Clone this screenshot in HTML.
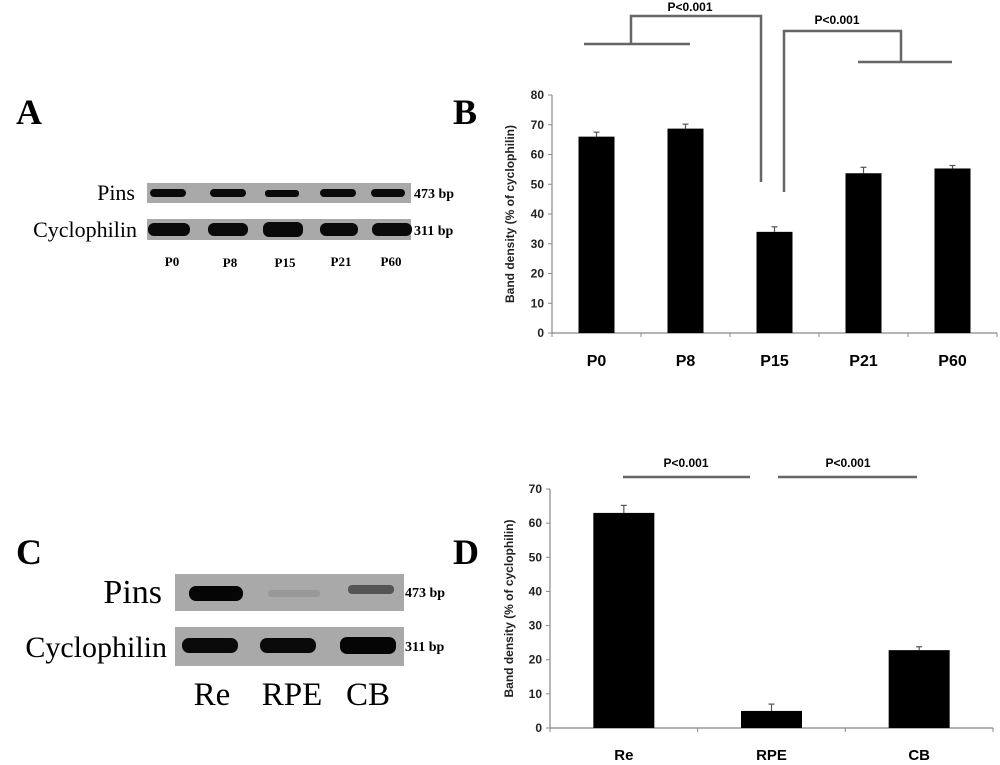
<!DOCTYPE html>
<html><head><meta charset="utf-8"><style>
html,body{margin:0;padding:0;background:#fff;}
svg{display:block;}
.serif{font-family:"Liberation Serif",serif;}
.sans{font-family:"Liberation Sans",sans-serif;}
</style></head><body>
<svg id="fig" width="1000" height="765" viewBox="0 0 1000 765" xmlns="http://www.w3.org/2000/svg">
<rect width="1000" height="765" fill="#fff"/>
<g class="serif" font-weight="bold" font-size="36" fill="#000">
<text x="16" y="124">A</text>
<text x="453" y="124">B</text>
<text x="16" y="564">C</text>
<text x="453" y="564">D</text>
</g>
<!-- Gel A -->
<g>
<text class="serif" x="135" y="200" font-size="22" text-anchor="end">Pins</text>
<text class="serif" x="137" y="237" font-size="22" text-anchor="end">Cyclophilin</text>
<rect x="147" y="183" width="264" height="20" fill="#a9a9a9"/>
<rect x="147" y="219" width="264" height="21" fill="#a9a9a9"/>
<g fill="#0a0a0a">
<rect x="150" y="189" width="36" height="8" rx="4"/><rect x="210" y="189" width="36" height="8" rx="4"/><rect x="265" y="190" width="34" height="7" rx="3"/><rect x="320" y="189" width="36" height="8" rx="4"/><rect x="371" y="189" width="34" height="8" rx="4"/>
<rect x="148" y="223" width="42" height="13" rx="6"/><rect x="208" y="223" width="40" height="13" rx="6"/><rect x="263" y="222" width="40" height="15" rx="6"/><rect x="320" y="223" width="38" height="13" rx="6"/><rect x="372" y="223" width="40" height="13" rx="6"/>
</g>
<text class="serif" x="414" y="198" font-size="14" font-weight="bold">473 bp</text>
<text class="serif" x="414" y="235" font-size="14" font-weight="bold">311 bp</text>
<g class="serif" font-size="13" font-weight="bold" text-anchor="middle">
<text x="172" y="266">P0</text><text x="230" y="267">P8</text><text x="285" y="267">P15</text><text x="341" y="266">P21</text><text x="391" y="266">P60</text>
</g>
</g>
<!-- Gel C -->
<g>
<text class="serif" x="162" y="603" font-size="34" text-anchor="end">Pins</text>
<text class="serif" x="167" y="657" font-size="30" text-anchor="end">Cyclophilin</text>
<rect x="175" y="574" width="229" height="37" fill="#a9a9a9"/>
<rect x="175" y="627" width="229" height="39" fill="#a9a9a9"/>
<rect x="189" y="586" width="54" height="15" rx="7" fill="#050505"/>
<rect x="268" y="590" width="52" height="7" rx="3" fill="#999"/>
<rect x="348" y="585" width="46" height="9" rx="4" fill="#555"/>
<rect x="182" y="638" width="56" height="15" rx="7" fill="#0a0a0a"/>
<rect x="260" y="638" width="56" height="15" rx="7" fill="#0a0a0a"/>
<rect x="340" y="637" width="56" height="17" rx="7" fill="#050505"/>
<text class="serif" x="405" y="597" font-size="14" font-weight="bold">473 bp</text>
<text class="serif" x="405" y="651" font-size="14" font-weight="bold">311 bp</text>
<g class="serif" font-size="33" text-anchor="middle">
<text x="212" y="705">Re</text><text x="292" y="705">RPE</text><text x="368" y="705">CB</text>
</g>
</g>
<g id="chartB"></g>
<g id="chartD"></g>
</svg>
<script>
const catsB = ["P0","P8","P15","P21","P60"];
const valsB = [66, 68.7, 34, 53.7, 55.3];
const errsB = [1.5, 1.5, 1.7, 2, 1];
const ticksB = [0,10,20,30,40,50,60,70,80];
const catsD = ["Re","RPE","CB"];
const valsD = [63, 5, 22.8];
const errsD = [2.2, 2, 1];
const ticksD = [0,10,20,30,40,50,60,70];
const NS="http://www.w3.org/2000/svg";
function mk(p,tag,a,txt){const e=document.createElementNS(NS,tag);for(const k in a)e.setAttribute(k,a[k]);if(txt!==undefined)e.textContent=txt;p.appendChild(e);return e;}
function chart(g,cats,vals,errs,ticks,o){
  const y=v=>o.y0-(v-ticks[0])/(ticks[ticks.length-1]-ticks[0])*(o.y0-o.yTop);
  const cw=(o.x1-o.x0)/cats.length;
  const x=i=>o.x0+cw*(i+0.5);
  mk(g,"line",{x1:o.x0,y1:o.yTop,x2:o.x0,y2:o.y0,stroke:"#888","stroke-width":1.2});
  mk(g,"line",{x1:o.x0,y1:o.y0,x2:o.x1,y2:o.y0,stroke:"#888","stroke-width":1.2});
  ticks.forEach(t=>{
    mk(g,"line",{x1:o.x0-4,y1:y(t),x2:o.x0,y2:y(t),stroke:"#888"});
    const tl=mk(g,"text",{x:o.x0-8,y:y(t)+4,"font-size":12,"font-weight":"bold","text-anchor":"end","font-family":"Liberation Sans, sans-serif",fill:"#222"},t);
    
    
  });
  for(let i=0;i<=cats.length;i++) mk(g,"line",{x1:o.x0+cw*i,y1:o.y0,x2:o.x0+cw*i,y2:o.y0+4,stroke:"#888"});
  cats.forEach((c,i)=>{
    const ey=y(vals[i]+errs[i]);
    mk(g,"line",{x1:x(i),y1:y(vals[i]),x2:x(i),y2:ey,stroke:"#555","stroke-width":1.2});
    mk(g,"line",{x1:x(i)-3,y1:ey,x2:x(i)+3,y2:ey,stroke:"#555","stroke-width":1.2});
    const b=mk(g,"rect",{x:x(i)-o.bw/2,y:y(vals[i]),width:o.bw,height:o.y0-y(vals[i]),fill:"#000"});
    
    
    const l=mk(g,"text",{x:x(i),y:o.labY,"font-size":o.labF,"font-weight":"bold","text-anchor":"middle","font-family":"Liberation Sans, sans-serif"},c);
    
    
  });
  const yt=mk(g,"text",{transform:`translate(${o.titleX},${(o.y0+o.yTop)/2}) rotate(-90)`,"font-size":12,"font-weight":"bold","text-anchor":"middle","font-family":"Liberation Sans, sans-serif",fill:"#222"},"Band density (% of cyclophilin)");
  
  
}
const gB=document.getElementById("chartB"), gD=document.getElementById("chartD");
chart(gB,catsB,valsB,errsB,ticksB,{x0:552,x1:997,y0:333,yTop:95,bw:36,labY:366,labF:16,titleX:514});
chart(gD,catsD,valsD,errsD,ticksD,{x0:550,x1:993,y0:728,yTop:489,bw:61,labY:760,labF:15,titleX:513});
// significance brackets
const st={stroke:"#666","stroke-width":2.5,fill:"none"};
mk(gB,"path",Object.assign({d:"M584 44 H690 M631 44 V16 H761 V182"},st));
mk(gB,"path",Object.assign({d:"M784 192 V31 H901 V62 M858 62 H952"},st));
mk(gB,"text",{x:690,y:11,"font-size":12,"font-weight":"bold","text-anchor":"middle","font-family":"Liberation Sans, sans-serif"},"P<0.001");
mk(gB,"text",{x:837,y:24,"font-size":12,"font-weight":"bold","text-anchor":"middle","font-family":"Liberation Sans, sans-serif"},"P<0.001");
mk(gD,"path",Object.assign({d:"M623 477 H750 M778 477 H917"},st));
mk(gD,"text",{x:686,y:467,"font-size":12,"font-weight":"bold","text-anchor":"middle","font-family":"Liberation Sans, sans-serif"},"P<0.001");
mk(gD,"text",{x:848,y:467,"font-size":12,"font-weight":"bold","text-anchor":"middle","font-family":"Liberation Sans, sans-serif"},"P<0.001");
</script>
</body></html>
